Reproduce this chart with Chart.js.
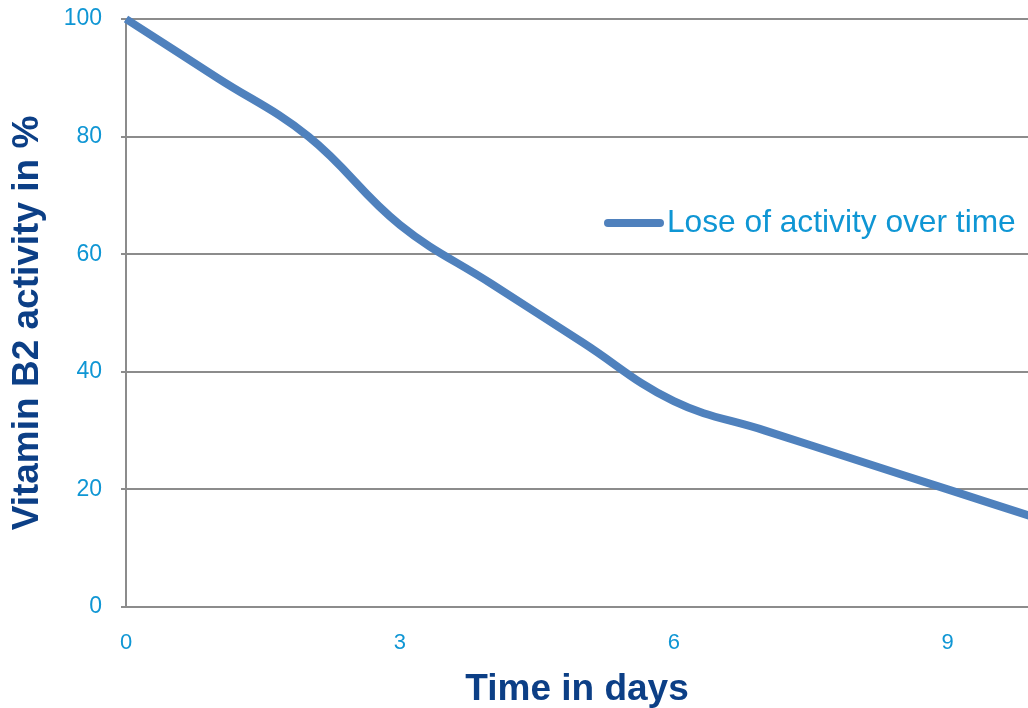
<!DOCTYPE html>
<html>
<head>
<meta charset="utf-8">
<title>Vitamin B2 activity</title>
<script src="https://cdn.jsdelivr.net/npm/chart.js@4/dist/chart.umd.min.js"></script>
<style>
  html, body { margin: 0; padding: 0; background: #ffffff; }
  #wrap { width: 1028px; height: 708px; position: relative; }
</style>
</head>
<body>
<div id="wrap"><canvas id="chart" width="1028" height="708"></canvas></div>
<script>
// Remaining vitamin B2 activity (%) measured each day
const days = [0, 1, 2, 3, 4, 5, 6, 7, 8, 9, 10];
const activity = [100, 90, 80, 65, 55, 45, 35, 30, 25, 20, 15];
const seriesLabel = 'Lose of activity over time';
const xTitle = 'Time in days';
const yTitle = 'Vitamin B2 activity in %';

const lineColor = '#4f81bd';
const tickColor = '#0f96d4';
const titleColor = '#0c3f86';
const gridColor = '#8c8c8c';
const fontFamily = '"Liberation Sans", Arial, Helvetica, sans-serif';

// Legend drawn inside the plot area, to the right of centre
const insideLegend = {
  id: 'insideLegend',
  afterDatasetsDraw(chart) {
    const ctx = chart.ctx;
    const ds = chart.data.datasets[0];
    const x0 = 608, x1 = 660, y = 223;
    ctx.save();
    ctx.strokeStyle = ds.borderColor;
    ctx.lineWidth = 8;
    ctx.lineCap = 'round';
    ctx.beginPath();
    ctx.moveTo(x0, y);
    ctx.lineTo(x1, y);
    ctx.stroke();
    ctx.fillStyle = tickColor;
    ctx.font = '31.7px ' + fontFamily;
    ctx.textBaseline = 'middle';
    ctx.textAlign = 'left';
    ctx.fillText(ds.label, 667, y);
    ctx.restore();
  }
};

// Vertical axis title, set a little below the plot's mid-height
const yAxisTitle = {
  id: 'yAxisTitle',
  afterDraw(chart) {
    const ctx = chart.ctx;
    const area = chart.chartArea;
    ctx.save();
    ctx.translate(28, (area.top + area.bottom) / 2 + 10);
    ctx.rotate(-Math.PI / 2);
    ctx.fillStyle = titleColor;
    ctx.font = 'bold 37px ' + fontFamily;
    ctx.textAlign = 'center';
    ctx.textBaseline = 'middle';
    ctx.fillText(yTitle, 0, 0);
    ctx.restore();
  }
};

new Chart(document.getElementById('chart'), {
  type: 'line',
  data: {
    datasets: [{
      label: seriesLabel,
      data: days.map((d, i) => ({ x: d, y: activity[i] })),
      borderColor: lineColor,
      backgroundColor: lineColor,
      borderWidth: 8,
      pointRadius: 0,
      tension: 0.4,
      clip: 8
    }]
  },
  options: {
    responsive: false,
    animation: false,
    layout: { padding: { top: 19, right: 0, left: 0, bottom: 0 } },
    plugins: {
      legend: { display: false },
      tooltip: { enabled: false }
    },
    scales: {
      x: {
        type: 'linear',
        min: 0,
        max: 9.88,
        afterFit(scale) {
          scale.height = 101;
          scale.paddingLeft = 0;
          scale.paddingRight = 0;
        },
        ticks: {
          stepSize: 3,
          includeBounds: false,
          color: tickColor,
          font: { family: fontFamily, size: 22 },
          padding: 23,
          maxRotation: 0
        },
        grid: { display: false, drawTicks: false },
        border: { display: true, color: gridColor, width: 2 },
        title: {
          display: true,
          text: xTitle,
          color: titleColor,
          font: { family: fontFamily, size: 37, weight: 'bold', lineHeight: 1 },
          padding: { top: 0, bottom: 0 }
        }
      },
      y: {
        min: 0,
        max: 100,
        afterFit(scale) {
          scale.width = 126;
          scale.paddingTop = 0;
          scale.paddingBottom = 0;
        },
        ticks: {
          stepSize: 20,
          color: tickColor,
          font: { family: fontFamily, size: 23 },
          padding: 19
        },
        grid: { color: gridColor, lineWidth: 2, drawTicks: true, tickLength: 5 },
        border: { display: true, color: gridColor, width: 2 },
        title: { display: false }
      }
    }
  },
  plugins: [insideLegend, yAxisTitle]
});
</script>
</body>
</html>
